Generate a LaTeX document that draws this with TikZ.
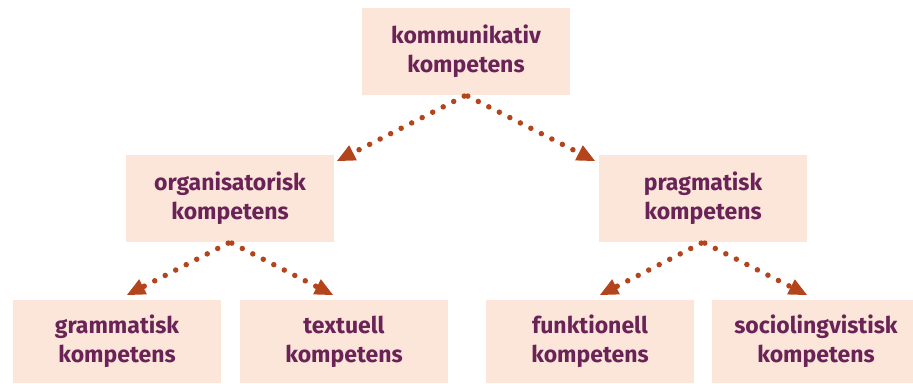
\documentclass[tikz,border=0pt]{standalone}
\usepackage{fontspec}
\setmainfont{Fira Sans}
\usetikzlibrary{arrows.meta}
\definecolor{boxfill}{HTML}{FCE5D9}
\definecolor{txt}{HTML}{6A2356}
\definecolor{arr}{HTML}{B3441B}
\begin{document}
\begin{tikzpicture}[x=1pt,y=-1pt,
  kbox/.style={fill=boxfill, minimum width=208pt, minimum height=87pt, inner sep=0pt,
    align=center, text=txt, font=\fontsize{23}{29}\selectfont\bfseries},
  dotarrow/.style={draw=arr, line width=5.5pt, line cap=round, dash pattern=on 0pt off 11.8pt,
    -{Triangle[length=18pt,width=17pt,fill=arr,line width=0pt,round=false]}}]
\useasboundingbox (0,0) rectangle (913,383);
\node[kbox] (top) at (466,51.5) {kommunikativ\\kompetens};
\node[kbox] (org) at (230,198.5) {organisatorisk\\kompetens};
\node[kbox] (prag) at (703,198.5) {pragmatisk\\kompetens};
\node[kbox, minimum height=83pt] (gram) at (117,341.5) {grammatisk\\kompetens};
\node[kbox, minimum height=83pt] (text) at (344,341.5) {textuell\\kompetens};
\node[kbox, minimum height=83pt] (funk) at (590,341.5) {funktionell\\kompetens};
\node[kbox, minimum height=83pt] (soc) at (816,341.5) {sociolingvistisk\\kompetens};
\coordinate (t1) at (337,161);
\coordinate (t2) at (595,161);
\coordinate (t3) at (127,295);
\coordinate (t4) at (333,295);
\coordinate (t5) at (600,295);
\coordinate (t6) at (807,295);
\draw[dotarrow, shorten <=2pt] (top.south) -- (t1);
\draw[dotarrow, shorten <=2pt] (top.south) -- (t2);
\draw[dotarrow, shorten <=2pt] (org.south) -- (t3);
\draw[dotarrow, shorten <=2pt] (org.south) -- (t4);
\draw[dotarrow, shorten <=2pt] (prag.south) -- (t5);
\draw[dotarrow, shorten <=2pt] (prag.south) -- (t6);
\end{tikzpicture}
\end{document}
